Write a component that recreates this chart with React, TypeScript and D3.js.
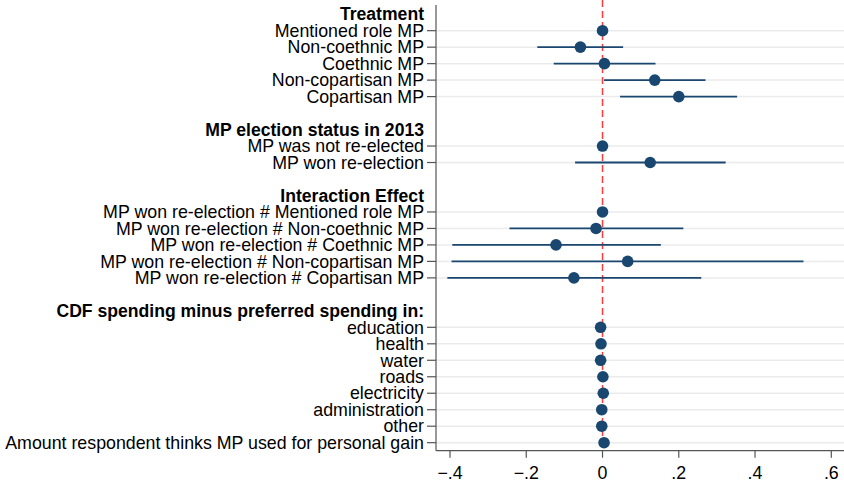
import React from "react";
import * as d3 from "d3";

// Groups (heading, then row labels)
const groupHeadings = [
  "Treatment",
  "MP election status in 2013",
  "Interaction Effect",
  "CDF spending minus preferred spending in:",
];

const treatmentLabels = ["Mentioned role MP", "Non-coethnic MP", "Coethnic MP", "Non-copartisan MP", "Copartisan MP"];
const treatmentEst = [0, -0.058, 0.005, 0.137, 0.2];
const treatmentLo = [0, -0.171, -0.128, 0.004, 0.046];
const treatmentHi = [0, 0.054, 0.139, 0.27, 0.353];

const electionLabels = ["MP was not re-elected", "MP won re-election"];
const electionEst = [0, 0.125];
const electionLo = [0, -0.072];
const electionHi = [0, 0.323];

const interactionLabels = [
  "MP won re-election # Mentioned role MP",
  "MP won re-election # Non-coethnic MP",
  "MP won re-election # Coethnic MP",
  "MP won re-election # Non-copartisan MP",
  "MP won re-election # Copartisan MP",
];
const interactionEst = [0, -0.017, -0.122, 0.066, -0.075];
const interactionLo = [0, -0.244, -0.394, -0.396, -0.407];
const interactionHi = [0, 0.212, 0.153, 0.527, 0.259];

const cdfLabels = ["education", "health", "water", "roads", "electricity", "administration", "other", "Amount respondent thinks MP used for personal gain"];
const cdfEst = [-0.005, -0.004, -0.005, 0.001, 0.002, -0.002, -0.002, 0.004];
const cdfLo = [-0.008, -0.007, -0.008, -0.002, -0.001, -0.005, -0.005, 0.001];
const cdfHi = [-0.002, -0.001, -0.002, 0.004, 0.005, 0.001, 0.001, 0.007];

const xTicks = [-0.4, -0.2, 0, 0.2, 0.4, 0.6];

type Row = { kind: "head" | "item" | "blank"; label: string; est?: number; lo?: number; hi?: number };

function buildRows(): Row[] {
  const groups = [
    [treatmentLabels, treatmentEst, treatmentLo, treatmentHi],
    [electionLabels, electionEst, electionLo, electionHi],
    [interactionLabels, interactionEst, interactionLo, interactionHi],
    [cdfLabels, cdfEst, cdfLo, cdfHi],
  ] as [string[], number[], number[], number[]][];
  const rows: Row[] = [];
  groups.forEach(([labels, est, lo, hi], g) => {
    if (g > 0) rows.push({ kind: "blank", label: "" });
    rows.push({ kind: "head", label: groupHeadings[g] });
    labels.forEach((l, i) => rows.push({ kind: "item", label: l, est: est[i], lo: lo[i], hi: hi[i] }));
  });
  return rows;
}

const W = 844;
const H = 483;
const FONT = "'Liberation Sans', Arial, Helvetica, sans-serif";
const NAVY = "#1a476f";

export default function App() {
  const rows = buildRows();
  const x = d3.scaleLinear().domain([-0.4, 0.6]).range([450, 831.3]);
  const y = d3.scaleLinear().domain([0, rows.length - 1]).range([14.2, 14.2 + 16.48 * (rows.length - 1)]);
  const axisX = 436;
  const axisY = 450.7;
  const labelX = 424;

  return (
    <svg width={W} height={H} style={{ position: "absolute", left: 0, top: 0, background: "#fff" }} fontFamily={FONT}>
      <rect x={0} y={0} width={W} height={H} fill="#fff" />
      {/* gridlines */}
      {rows.map((r, i) =>
        r.kind === "item" ? (
          <line key={"g" + i} x1={axisX} x2={W} y1={y(i)} y2={y(i)} stroke="#ebebeb" strokeWidth={1.5} />
        ) : null
      )}
      {/* zero reference line */}
      <line x1={x(0)} x2={x(0)} y1={0} y2={axisY} stroke="#ff3b3b" strokeWidth={1.5} strokeDasharray="7,4" />
      {/* CIs */}
      {rows.map((r, i) =>
        r.kind === "item" && r.hi! - r.lo! > 0 ? (
          <line key={"c" + i} x1={x(r.lo!)} x2={x(r.hi!)} y1={y(i)} y2={y(i)} stroke={NAVY} strokeWidth={1.8} />
        ) : null
      )}
      {/* points */}
      {rows.map((r, i) =>
        r.kind === "item" ? <circle key={"p" + i} cx={x(r.est!)} cy={y(i)} r={5.8} fill={NAVY} /> : null
      )}
      {/* y axis */}
      <line x1={axisX} x2={axisX} y1={5} y2={axisY} stroke="#555" strokeWidth={1.2} />
      {rows.map((r, i) =>
        r.kind === "item" ? (
          <line key={"t" + i} x1={axisX - 9} x2={axisX} y1={y(i)} y2={y(i)} stroke="#555" strokeWidth={1.2} />
        ) : null
      )}
      {rows.map((r, i) =>
        r.kind === "blank" ? null : (
          <text
            key={"l" + i}
            x={labelX}
            y={y(i)}
            dy="0.35em"
            textAnchor="end"
            fontSize={r.kind === "head" ? 17.6 : 17.8}
            fontWeight={r.kind === "head" ? "bold" : "normal"}
            fill="#000"
          >
            {r.label}
          </text>
        )
      )}
      {/* x axis */}
      <line x1={axisX} x2={W} y1={axisY} y2={axisY} stroke="#555" strokeWidth={1.2} />
      {xTicks.map((t) => (
        <g key={"x" + t}>
          <line x1={x(t)} x2={x(t)} y1={axisY} y2={axisY + 7} stroke="#555" strokeWidth={1.2} />
          <text x={x(t)} y={axisY + 22} dy="0.35em" textAnchor="middle" fontSize={17.8} fill="#000">
            {t === 0 ? "0" : d3.format(".1f")(t).replace("0.", ".")}
          </text>
        </g>
      ))}
    </svg>
  );
}
